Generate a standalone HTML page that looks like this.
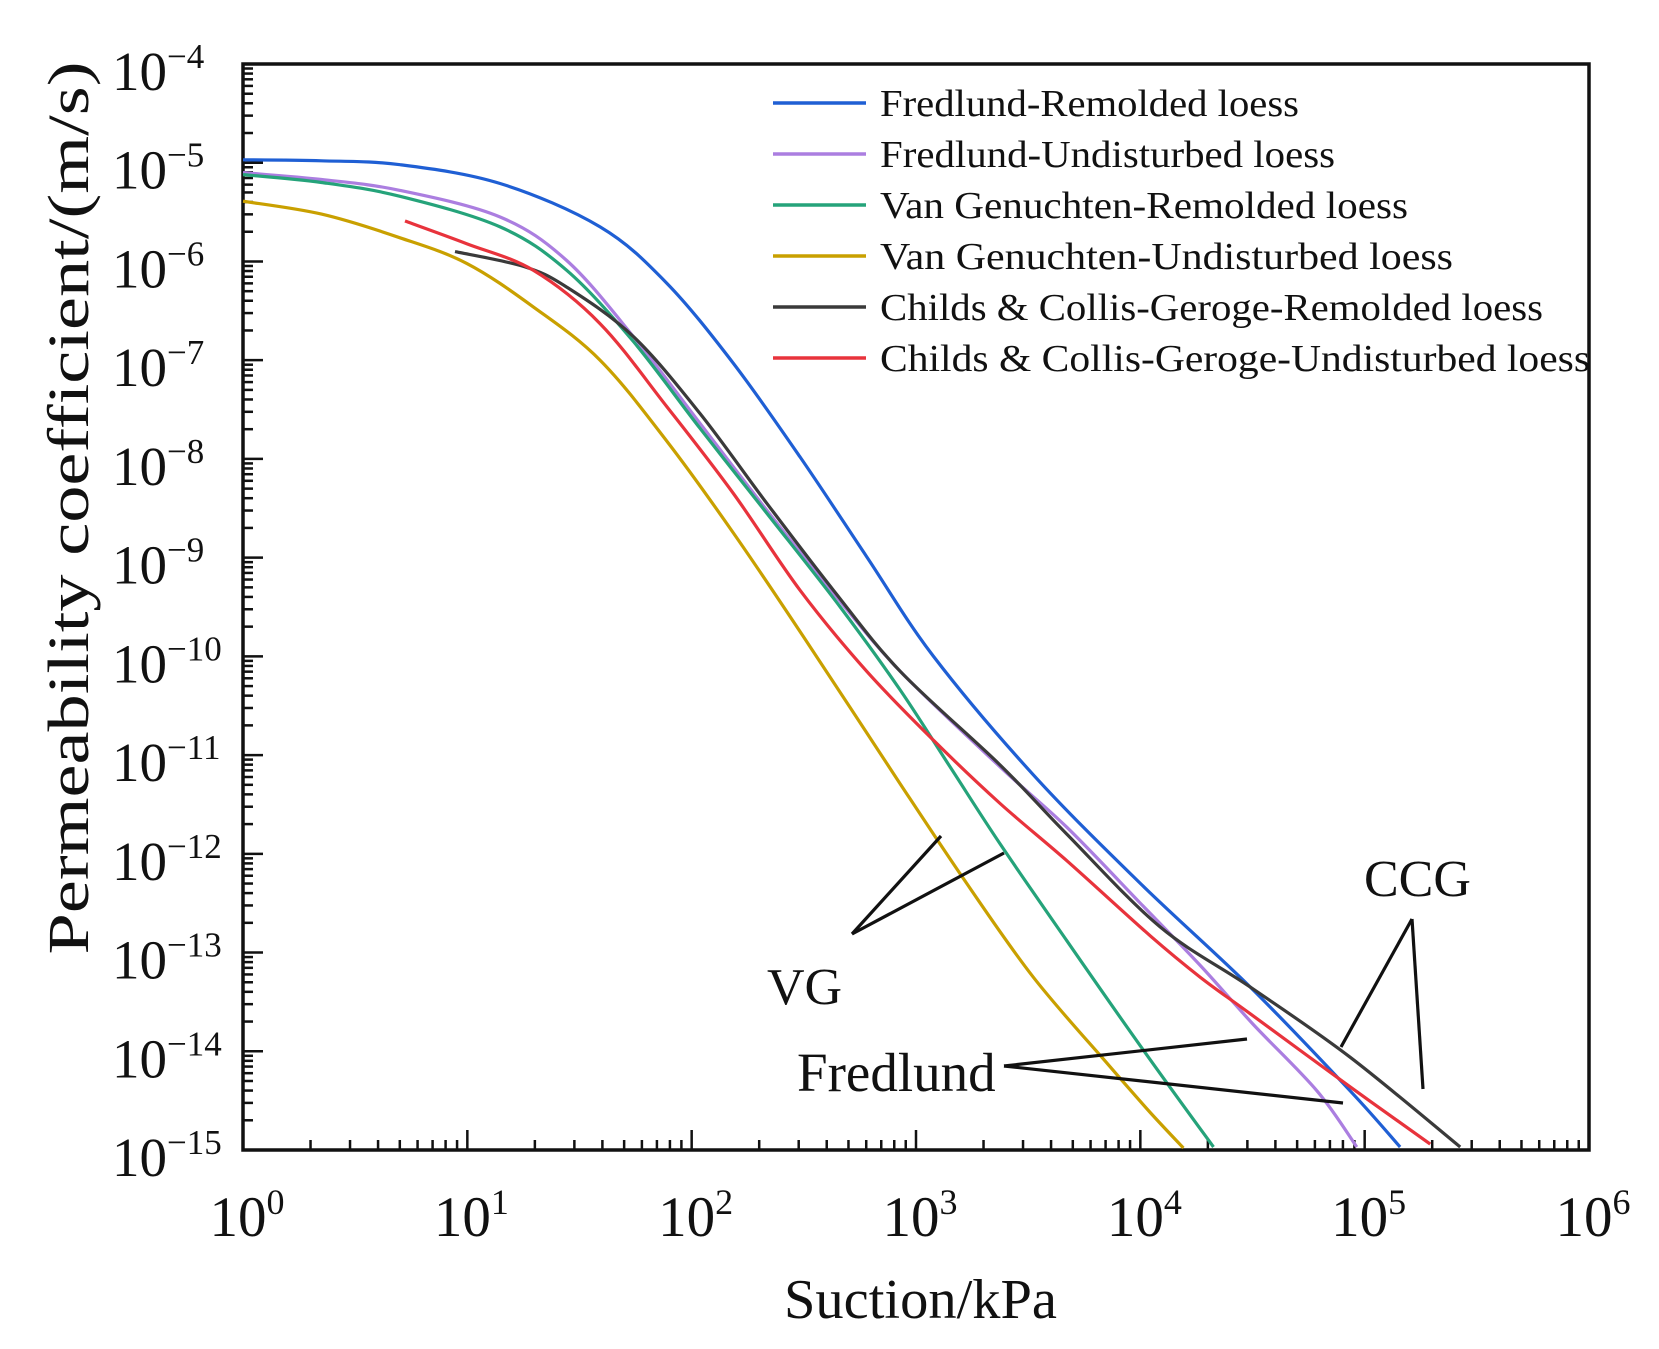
<!DOCTYPE html>
<html><head><meta charset="utf-8"><style>
html,body{margin:0;padding:0;background:#fff;}
svg{display:block;}
text{font-family:"Liberation Serif","Times New Roman",serif;fill:#111;}
</style></head>
<body>
<svg id="chart" width="1659" height="1349" viewBox="0 0 1659 1349" xmlns="http://www.w3.org/2000/svg">
<g id="axes"></g>
<g id="series"></g>
<g id="legend"></g>
<g id="annot"></g>
</svg>
<script>
// ---- data (log10 suction kPa, log10 permeability m/s) ----
const xTickExps = [0,1,2,3,4,5,6];
const yTickExps = [-4,-5,-6,-7,-8,-9,-10,-11,-12,-13,-14,-15];
const seriesNames = ["Fredlund-Remolded loess","Fredlund-Undisturbed loess","Van Genuchten-Remolded loess","Van Genuchten-Undisturbed  loess","Childs & Collis-Geroge-Remolded loess","Childs & Collis-Geroge-Undisturbed  loess"];
const fredRemX = [0,0.35,0.7,1.146,1.592,1.889,2.185,2.483,2.78,3.078,3.523,4.0,4.49,4.935,5.158];
const fredRemY = [-4.97,-4.98,-5.02,-5.21,-5.65,-6.22,-7.03,-7.98,-8.99,-10.0,-11.2,-12.3,-13.35,-14.4,-14.97];
const fredUndX = [0,0.35,0.7,1.146,1.443,1.74,2.037,2.335,2.632,2.929,3.375,3.672,4.0,4.267,4.5,4.787,4.965];
const fredUndY = [-5.1,-5.17,-5.28,-5.55,-5.99,-6.76,-7.64,-8.52,-9.36,-10.15,-11.12,-11.73,-12.5,-13.13,-13.72,-14.4,-14.97];
const vgRemX = [0,0.35,0.7,1.146,1.443,1.74,2.037,2.335,2.662,2.929,3.152,3.375,3.672,4.014,4.326];
const vgRemY = [-5.12,-5.2,-5.34,-5.65,-6.09,-6.81,-7.69,-8.55,-9.5,-10.34,-11.12,-11.9,-12.88,-13.99,-14.97];
const vgUndX = [0,0.35,0.7,0.997,1.294,1.592,1.889,2.186,2.513,2.929,3.226,3.523,3.851,4.044,4.192];
const vgUndY = [-5.39,-5.52,-5.76,-6.02,-6.46,-7.0,-7.82,-8.75,-9.85,-11.29,-12.3,-13.25,-14.12,-14.62,-14.98];
const ccgRemX = [0.945,1.25,1.443,1.74,2.037,2.335,2.632,2.929,3.375,3.672,4.088,4.49,4.935,5.426];
const ccgRemY = [-5.9,-6.05,-6.26,-6.76,-7.54,-8.45,-9.33,-10.15,-11.1,-11.8,-12.74,-13.35,-14.06,-14.97];
const ccgUndX = [0.722,0.997,1.294,1.592,1.889,2.186,2.483,2.78,3.078,3.375,3.672,4.044,4.267,4.49,4.935,5.292];
const ccgUndY = [-5.59,-5.82,-6.09,-6.63,-7.47,-8.35,-9.33,-10.15,-10.85,-11.49,-12.07,-12.83,-13.25,-13.62,-14.36,-14.94];

const NS="http://www.w3.org/2000/svg";
const L=243,R=1589,T=64,B=1150;
const xMin=0,xMax=6,yMin=-15,yMax=-4;
function sx(v){return L+(v-xMin)/(xMax-xMin)*(R-L);}
function sy(v){return B-(v-yMin)/(yMax-yMin)*(B-T);}
function mk(tag,attrs,parent){const e=document.createElementNS(NS,tag);for(const k in attrs)e.setAttribute(k,attrs[k]);parent.appendChild(e);return e;}

const axes=document.getElementById('axes');
let fr=mk('rect',{x:L,y:T,width:R-L,height:B-T,fill:'none',stroke:'#111','stroke-width':3.5},axes);


for(let d=xMin;d<xMax;d++){
  for(let m=1;m<10;m++){
    const v=d+Math.log10(m);
    const len=m===1?20:10;
    const t=mk('line',{x1:sx(v),x2:sx(v),y1:B,y2:B-len,stroke:'#111','stroke-width':2.5},axes);
    
    
  }
}
xTickExps.forEach(e=>{
  const t=mk('text',{x:sx(e)+4,y:1236,'font-size':57,'text-anchor':'middle'},axes);
  
  
  t.textContent='10';
  const s=mk('tspan',{dy:-22,'font-size':36},t);s.textContent=String(e);
});
for(let d=yMin;d<yMax;d++){
  for(let m=1;m<10;m++){
    const v=d+Math.log10(m);
    const len=m===1?20:10;
    const t=mk('line',{x1:L,x2:L+len,y1:sy(v),y2:sy(v),stroke:'#111','stroke-width':2.5},axes);
    
    
  }
}
yTickExps.forEach(e=>{
  const t=mk('text',{x:112,y:sy(e)+26,'font-size':55},axes);
  
  
  t.textContent='10';
  const s=mk('tspan',{dy:-22,'font-size':35},t);s.textContent='\u2212'+Math.abs(e);
});
let xt=mk('text',{x:784,y:1318,'font-size':56,textLength:273,lengthAdjust:'spacingAndGlyphs'},axes);


xt.textContent='Suction/kPa';
let yt=mk('text',{x:0,y:0,'font-size':58,'text-anchor':'middle',textLength:893,lengthAdjust:'spacingAndGlyphs',transform:'translate(88,508) rotate(-90)'},axes);


yt.textContent='Permeability coefficient/(m/s)';

function pathD(xs,ys){
  const p=xs.map((x,i)=>[sx(x),sy(ys[i])]);
  let d='M'+p[0][0].toFixed(1)+','+p[0][1].toFixed(1);
  for(let i=0;i<p.length-1;i++){
    const p0=p[i-1]||p[i],p1=p[i],p2=p[i+1],p3=p[i+2]||p2;
    const c1=[p1[0]+(p2[0]-p0[0])/6,p1[1]+(p2[1]-p0[1])/6];
    const c2=[p2[0]-(p3[0]-p1[0])/6,p2[1]-(p3[1]-p1[1])/6];
    d+='C'+c1[0].toFixed(1)+','+c1[1].toFixed(1)+' '+c2[0].toFixed(1)+','+c2[1].toFixed(1)+' '+p2[0].toFixed(1)+','+p2[1].toFixed(1);
  }
  return d;
}
const sg=document.getElementById('series');
const colors=['#1f5fd4','#ab7ee0','#25a37a','#c9a000','#3a3a3a','#e8333c'];
const allX=[fredRemX,fredUndX,vgRemX,vgUndX,ccgRemX,ccgUndX];
const allY=[fredRemY,fredUndY,vgRemY,vgUndY,ccgRemY,ccgUndY];
const sNames=['fredlund-remolded-line','fredlund-undisturbed-line','vg-remolded-line','vg-undisturbed-line','ccg-remolded-line','ccg-undisturbed-line'];
for(let i=0;i<6;i++){
  const p=mk('path',{d:pathD(allX[i],allY[i]),fill:'none',stroke:colors[i],'stroke-width':3.2,'stroke-linejoin':'round'},sg);
  
  
}
const lg=document.getElementById('legend');
const legW=[419,455,528,573,663,710];
for(let i=0;i<6;i++){
  const y=103+i*51;
  const ln=mk('line',{x1:773,x2:866,y1:y,y2:y,stroke:colors[i],'stroke-width':3.5},lg);
  
  
  const t=mk('text',{x:880,y:y+13,'font-size':38,textLength:legW[i],lengthAdjust:'spacingAndGlyphs'},lg);
  
  
  t.textContent=seriesNames[i];
}
const an=document.getElementById('annot');
const segs=[[852,934,941,836],[852,934,1004,853],[1004,1066,1247,1039],[1004,1066,1343,1103],[1412,919,1341,1047],[1412,919,1423,1089]];
segs.forEach(s=>{
  const l=mk('line',{x1:s[0],y1:s[1],x2:s[2],y2:s[3],stroke:'#111','stroke-width':3.2},an);
  
  
});
[['VG',767,1004,52,'vg-label'],['Fredlund',797,1091,55,'fredlund-label'],['CCG',1364,896,52,'ccg-label']].forEach(a=>{
  const t=mk('text',{x:a[1],y:a[2],'font-size':a[3]},an);
  
  
  t.textContent=a[0];
});
</script>
</body></html>
